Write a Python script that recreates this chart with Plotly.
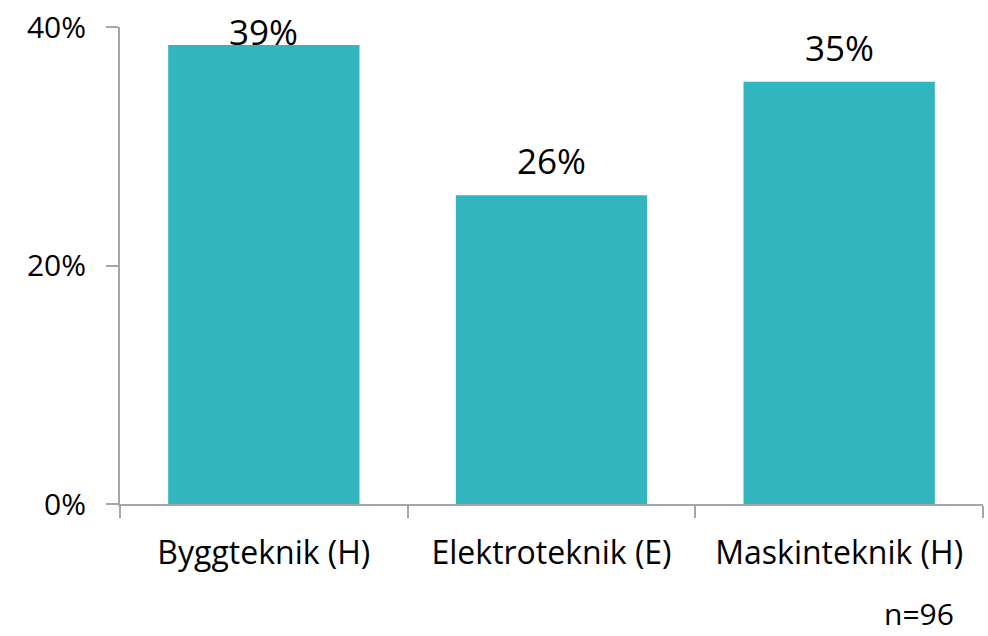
import plotly.graph_objects as go

# data
categories = ["Byggteknik (H)", "Elektroteknik (E)", "Maskinteknik (H)"]
shares = [38.5, 25.9, 35.4]          # percent
share_labels = ["39%", "26%", "35%"]
y_ticks = [0, 20, 40]
y_tick_text = [f"{v}%" for v in y_ticks]
note = "n=96"

bar_color = "#31B5BE"
axis_color = "#A6A6A6"
font_name = "Open Sans, DejaVu Sans, sans-serif"
y_max = 40

fig = go.Figure(go.Bar(
    x=categories,
    y=shares,
    marker=dict(color=bar_color, line=dict(width=0)),
    width=0.665,
    hoverinfo="skip",
))

# value labels above the bars; a label that would run off the top is pulled down
annotations = []
for cat, val, lab in zip(categories, shares, share_labels):
    if val > y_max * 0.9:
        annotations.append(dict(x=cat, y=1, yref="paper", text=lab, showarrow=False,
                                yanchor="top", yshift=21, font=dict(size=35)))
    else:
        annotations.append(dict(x=cat, y=val, text=lab, showarrow=False,
                                yanchor="bottom", yshift=9, font=dict(size=35)))

annotations.append(dict(x=0.968, y=-0.185, xref="paper", yref="paper", text=note,
                        showarrow=False, xanchor="right", yanchor="top", borderpad=0,
                        font=dict(size=30)))

fig.update_layout(
    width=988, height=636,
    margin=dict(l=120, r=5, t=23, b=132),
    plot_bgcolor="white", paper_bgcolor="white",
    font=dict(family=font_name, size=30, color="#000000"),
    showlegend=False,
    bargap=0.335,
    annotations=annotations,
    xaxis=dict(
        showline=True, linecolor=axis_color, linewidth=2,
        ticks="outside", tickson="boundaries", ticklen=12, tickwidth=2, tickcolor=axis_color,
        ticklabelstandoff=20, showgrid=False, range=[-0.5, 2.5],
        tickfont=dict(size=32),
    ),
    yaxis=dict(
        range=[0, y_max], tickvals=y_ticks, ticktext=y_tick_text,
        showline=True, linecolor=axis_color, linewidth=2,
        ticks="outside", ticklen=12, tickwidth=2, tickcolor=axis_color,
        ticklabelstandoff=14, showgrid=False, zeroline=False,
    ),
)

# page has an 8px body margin by default; drop it so the figure sits at 0,0
fig.write_html("out.html", config={"displayModeBar": False},
               post_script="document.body.style.margin='0';")
